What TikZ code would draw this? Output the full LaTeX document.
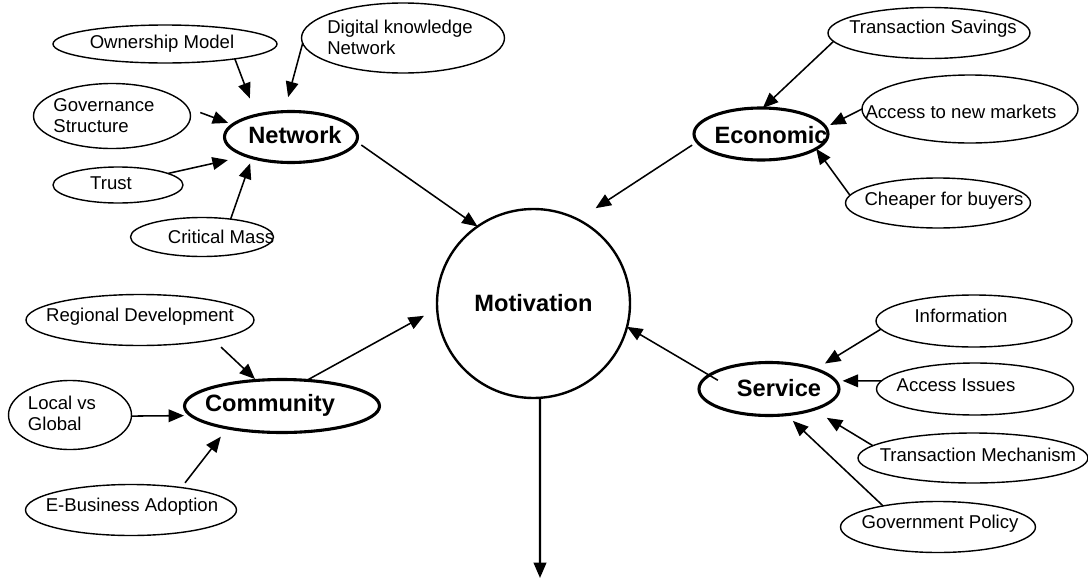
\documentclass[tikz,border=0pt]{standalone}
\usepackage{fontspec}
\setmainfont{Liberation Sans}
\usetikzlibrary{arrows.meta,shapes.geometric}

\begin{document}
\begin{tikzpicture}[
  x=0.025cm, y=-0.025cm,
  every node/.style = {inner sep=0pt, outer sep=0pt},
  every label/.style = {font=\fontsize{13.2}{14.8}\selectfont, align=left},
  leaf/.style = {shape=ellipse, draw, line width=1pt},
  hub/.style = {shape=ellipse, draw, line width=2.2pt},
  big/.style = {font=\fontsize{16.8}{19}\selectfont\bfseries},
  sz/.style 2 args = {minimum width=#1*0.025cm, minimum height=#2*0.025cm},
  arr/.style = {-{Triangle[length=11pt,width=9pt]}, line width=1.1pt},
  gap/.style = {shorten >=#1*0.025cm},
  lead/.style = {shorten <=#1*0.025cm}
  ]
  \useasboundingbox (0,0) rectangle (1088,580);

  \node[hub, line width=1.7pt, sz={193}{189}, label={[big]center:Motivation}] (mot) at (533.5,303.5) {};

  \node[hub, sz={133}{51}, label={[big, shift={(4,-2)}]center:Network}] (net) at (291,137) {};
  \node[hub, sz={134}{52}, label={[big, shift={(10,1)}]center:Economic}] (eco) at (761,134) {};
  \node[hub, sz={195}{53}, label={[big, shift={(-12,-1)}]center:Community}] (comm) at (282,406) {};
  \node[hub, sz={140}{53}, label={[big, shift={(10,-1)}]center:Service}] (serv) at (769,389) {};

  \node[leaf, sz={224}{38}, label={[shift={(-3,0)}]center:Ownership Model}] (own) at (165,44) {};
  \node[leaf, sz={203}{70}, label={[shift={(-3,-1)}]center:Digital knowledge\\Network}] (dig) at (403,38) {};
  \node[leaf, sz={157}{65}, label={[shift={(-8,0)}]center:Governance\\Structure}] (gov) at (112,116) {};
  \node[leaf, sz={130}{36}, label={[shift={(-7,-2)}]center:Trust}] (trust) at (118,185) {};
  \node[leaf, sz={143}{39}, label={[shift={(19,0)}]center:Critical Mass}] (crit) at (202,237) {};

  \node[leaf, sz={202}{51}, label={[shift={(4,-4)}]center:Transaction Savings}] (ts) at (929,33) {};
  \node[leaf, sz={216}{68}, label={[shift={(-9,3)}]center:Access to new markets}] (acm) at (970,109) {};
  \node[leaf, sz={185}{50}, label={[shift={(6,-2)}]center:Cheaper for buyers}] (cheap) at (938,203) {};

  \node[leaf, sz={228}{51}, label={[shift={(0,-3)}]center:Regional Development}] (reg) at (140,320) {};
  \node[leaf, sz={123}{69}, label={[shift={(-8,-2)}]center:Local vs\\Global}] (local) at (70,415) {};
  \node[leaf, sz={211}{51}, label={[shift={(1,-3)}]center:E-Business Adoption}] (ebus) at (131,510) {};

  \node[leaf, sz={196}{52}, label={[shift={(-13,-5)}]center:Information}] (info) at (974,321) {};
  \node[leaf, sz={197}{52}, label={[shift={(-19,-4)}]center:Access Issues}] (aiss) at (975,389) {};
  \node[leaf, sz={230}{50}, label={[shift={(5,-3)}]center:Transaction Mechanism}] (tm) at (973,458) {};
  \node[leaf, sz={195}{51}, label={[shift={(2,-3)}]center:Government Policy}] (gp) at (938,527) {};

  \coordinate (bottom) at (540,578);

  \draw[arr, gap=18] (own.-12) -- (net.148);
  \draw[arr, gap=15] (dig.183) -- (net.105);
  \draw[arr, lead=13, gap=5] (gov.6) -- (net.168);
  \draw[arr, gap=19] (trust.13) -- (net.203);
  \draw[arr, gap=6] (crit.32) -- (net.208);

  \draw[arr] (ts.185) -- (eco.86);
  \draw[arr, gap=5] (acm.180) -- (eco.6);
  \draw[arr] (cheap.175) -- (eco.-15);

  \draw[arr, lead=11, gap=2] (reg.-15) -- (comm.135);
  \draw[arr, gap=7] (local.-1) -- (comm.186);
  \draw[arr, lead=6, gap=11] (ebus.24) -- (comm.202);

  \draw[arr, gap=11] (info.185) -- (serv.23);
  \draw[arr, gap=7] (aiss.175) -- (serv.7);
  \draw[arr, gap=16] (tm.173) -- (serv.-25);
  \draw[arr, gap=9] (gp.159) -- (serv.-56);

  \draw[arr, lead=6] (net.-4) -- (mot.126);
  \draw[arr, lead=6, gap=21] (eco.187) -- (mot.62);
  \draw[arr, gap=15] (comm.46) -- (mot.183);
  \draw[arr, lead=-10] (serv.167) -- (mot.-14);
  \draw[arr, line width=1.6pt] (mot.-86) -- (bottom);

\end{tikzpicture}
\end{document}
